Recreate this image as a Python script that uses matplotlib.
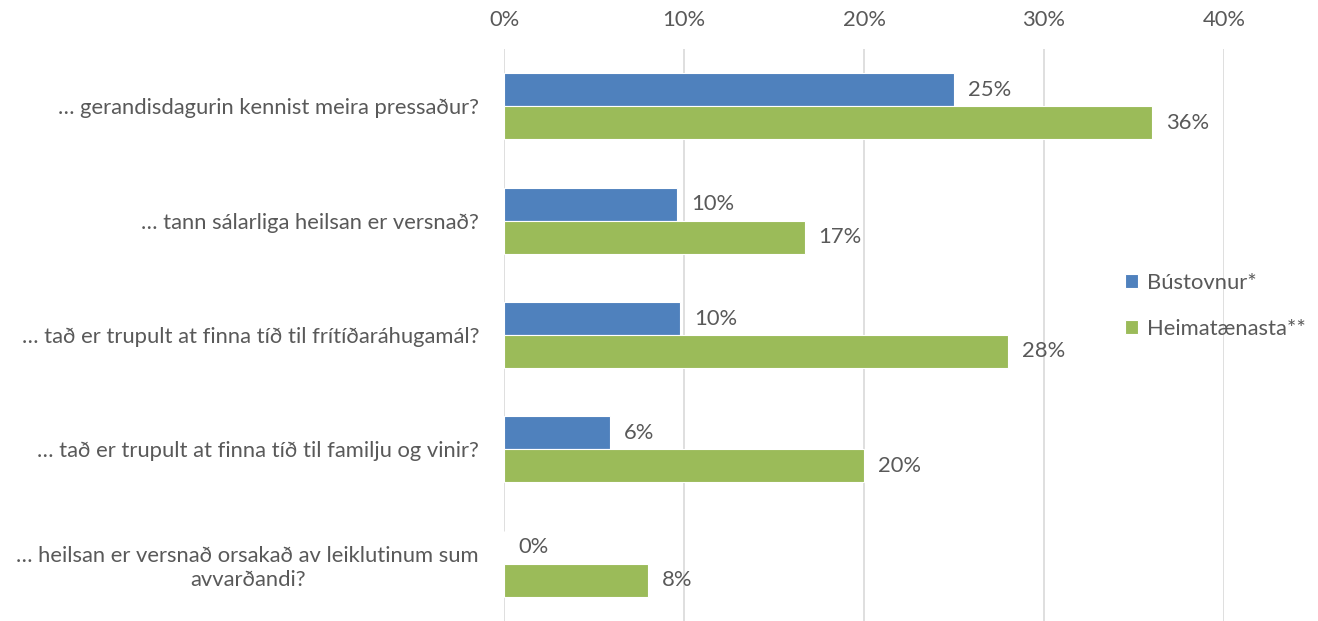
import matplotlib
matplotlib.use("Agg")
import matplotlib.pyplot as plt
import numpy as np
from matplotlib.ticker import FuncFormatter

categories = [
    "… gerandisdagurin kennist meira pressaður?",
    "… tann sálarliga heilsan er versnað?",
    "… tað er trupult at finna tíð til frítíðaráhugamál?",
    "… tað er trupult at finna tíð til familju og vinir?",
    "… heilsan er versnað orsakað av leiklutinum sum\navvarðandi?",
]
series_names = ["Bústovnur*", "Heimatænasta**"]
bustovnur = [25.0, 9.6, 9.8, 5.9, 0.0]
heimataenasta = [36.0, 16.7, 28.0, 20.0, 8.0]
xticks = [0, 10, 20, 30, 40]

colors = ["#4F81BD", "#9BBB59"]
text_color = "#595959"
grid_color = "#D9D9D9"
fs = 15.8

plt.rcParams["font.family"] = ["Lato", "DejaVu Sans"]

fig = plt.figure(figsize=(13.18, 6.21), dpi=100)
ax = fig.add_axes([504/1318, 0.0, (1224-504)/1318, 1 - 49/621])

y = np.arange(len(categories))
h = 0.288
b1 = ax.barh(y - h/2, bustovnur, height=h, color=colors[0], edgecolor="white", linewidth=0.8, label=series_names[0], zorder=3)
b2 = ax.barh(y + h/2, heimataenasta, height=h, color=colors[1], edgecolor="white", linewidth=0.8, label=series_names[1], zorder=3)

for bars, vals in ((b1, bustovnur), (b2, heimataenasta)):
    for bar, v in zip(bars, vals):
        ax.annotate(f"{round(v):.0f}%", xy=(v, bar.get_y() + bar.get_height()/2),
                    xytext=(10, 0), textcoords="offset points", va="center", ha="left",
                    fontsize=fs, color=text_color)

ax.set_xlim(0, 40)
ax.set_ylim(len(categories) - 0.5, -0.5)
ax.set_xticks(xticks)
ax.xaxis.set_major_formatter(FuncFormatter(lambda v, p: f"{v:.0f}%"))
ax.xaxis.tick_top()
ax.tick_params(axis="x", length=0, pad=14, labelsize=fs, labelcolor=text_color)
ax.set_yticks(y)
ax.set_yticklabels(categories, multialignment="center", linespacing=1.25)
ax.tick_params(axis="y", length=0, pad=18, labelsize=fs, labelcolor=text_color)
ax.grid(axis="x", color=grid_color, linewidth=1.2, zorder=0)
ax.set_axisbelow(True)
for s in ax.spines.values():
    s.set_visible(False)

leg = fig.legend(handles=[b1, b2], labels=series_names, loc="center left",
                 bbox_to_anchor=(1105/1318, 1 - 306/621), frameon=False,
                 fontsize=fs, handlelength=0.6, handleheight=0.6,
                 handletextpad=0.4, labelspacing=1.2)
for t in leg.get_texts():
    t.set_color(text_color)

fig.savefig("out.png", dpi=100)
